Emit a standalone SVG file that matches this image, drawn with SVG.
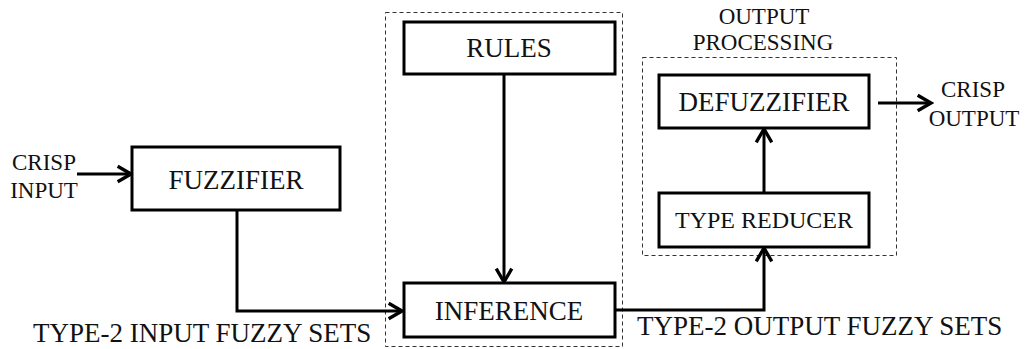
<svg xmlns="http://www.w3.org/2000/svg" width="1025" height="349" viewBox="0 0 1025 349">
<style>
text{font-family:"Liberation Serif","Times New Roman",serif;fill:#111}
.box{fill:#fff;stroke:#000;stroke-width:3}
.grp{fill:none;stroke:#333;stroke-width:1;stroke-dasharray:4 3}
.lbl{font-size:27px;text-anchor:middle}
.sm{font-size:23px;text-anchor:middle}
.edge{fill:none;stroke:#000;stroke-width:3}
</style>
<defs>
<marker id="arr" markerUnits="userSpaceOnUse" markerWidth="20" markerHeight="20" viewBox="-14 -9 16 18" refX="0" refY="0" orient="auto">
<path d="M-12,-7 L0,0 L-12,7" fill="none" stroke="#000" stroke-width="3"/>
</marker>
</defs>
<rect width="1025" height="349" fill="#fff"/>
<g id="inference-group"><rect class="grp" x="385.5" y="12.5" width="237" height="334"/></g>
<g id="output-processing"><rect class="grp" x="642.5" y="57.5" width="254" height="198"/>
<text class="sm" x="764" y="24">OUTPUT</text><text class="sm" x="763" y="50">PROCESSING</text></g>
<g id="connectors">
<path class="edge" d="M77,174 H131" marker-end="url(#arr)"/>
<path class="edge" d="M237,210 V311 H402" marker-end="url(#arr)"/>
<path class="edge" d="M504,74 V282" marker-end="url(#arr)"/>
<path class="edge" d="M615,310 H764 V248" marker-end="url(#arr)"/>
<path class="edge" d="M764,193 V129" marker-end="url(#arr)"/>
<path class="edge" d="M878,103 H931" marker-end="url(#arr)"/>
</g>
<g id="crisp-input"><text class="sm" x="44" y="170">CRISP</text><text class="sm" x="44" y="198">INPUT</text></g>
<g id="fuzzifier"><rect class="box" x="132" y="147" width="208" height="63"/><text class="lbl" x="236" y="189">FUZZIFIER</text></g>
<g id="rules"><rect class="box" x="404" y="22" width="211" height="52"/><text class="lbl" x="509" y="57">RULES</text></g>
<g id="inference"><rect class="box" x="404" y="283" width="211" height="54"/><text class="lbl" x="509" y="320">INFERENCE</text></g>
<g id="defuzzifier"><rect class="box" x="659" y="75" width="210" height="53"/><text class="lbl" x="764" y="111">DEFUZZIFIER</text></g>
<g id="type-reducer"><rect class="box" x="659" y="193" width="210" height="54"/><text class="lbl" x="764" y="228" style="font-size:24px">TYPE REDUCER</text></g>
<g id="crisp-output"><text class="sm" x="973" y="97">CRISP</text><text class="sm" x="974" y="126">OUTPUT</text></g>
<g id="input-sets"><text x="33" y="342" style="font-size:27px">TYPE-2 INPUT FUZZY SETS</text></g>
<g id="output-sets"><text x="637" y="335" style="font-size:27px">TYPE-2 OUTPUT FUZZY SETS</text></g>
</svg>
